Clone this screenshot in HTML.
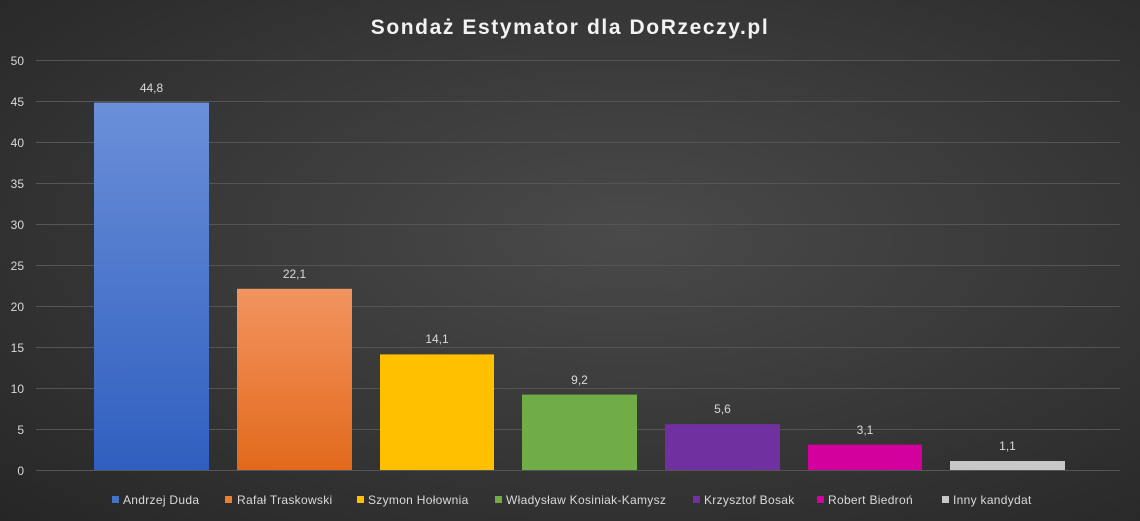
<!DOCTYPE html>
<html><head><meta charset="utf-8"><style>
html,body{margin:0;padding:0;width:1140px;height:521px;overflow:hidden}
body{background:radial-gradient(ellipse at 55% 45%,#4a4a4a 0%,#3a3a3a 45%,#262626 100%);font-family:"Liberation Sans",sans-serif}
svg{position:absolute;left:0;top:0}
</style></head><body>
<svg width="1140" height="521" viewBox="0 0 1140 521">
<defs>
<linearGradient id="gb" x1="0" y1="0" x2="0" y2="1"><stop offset="0" stop-color="#6b8fd9"/><stop offset="1" stop-color="#2f5fbf"/></linearGradient>
<linearGradient id="go" x1="0" y1="0" x2="0" y2="1"><stop offset="0" stop-color="#f29460"/><stop offset="1" stop-color="#e2691b"/></linearGradient>
</defs>
<text x="570" y="34" text-anchor="middle" font-size="21" font-weight="bold" fill="#f2f2f2" letter-spacing="1.6">Sondaż Estymator dla DoRzeczy.pl</text>
<g stroke="#555555" stroke-width="1">
<line x1="36" x2="1120" y1="60.5" y2="60.5"/><line x1="36" x2="1120" y1="101.5" y2="101.5"/>
<line x1="36" x2="1120" y1="142.5" y2="142.5"/><line x1="36" x2="1120" y1="183.5" y2="183.5"/>
<line x1="36" x2="1120" y1="224.5" y2="224.5"/><line x1="36" x2="1120" y1="265.5" y2="265.5"/>
<line x1="36" x2="1120" y1="306.5" y2="306.5"/><line x1="36" x2="1120" y1="347.5" y2="347.5"/>
<line x1="36" x2="1120" y1="388.5" y2="388.5"/><line x1="36" x2="1120" y1="429.5" y2="429.5"/>
<line x1="36" x2="1120" y1="470.5" y2="470.5"/>
</g>
<g font-size="12" fill="#d9d9d9" text-anchor="end">
<text x="24" y="65">50</text><text x="24" y="106">45</text><text x="24" y="147">40</text>
<text x="24" y="188">35</text><text x="24" y="229">30</text><text x="24" y="270">25</text>
<text x="24" y="311">20</text><text x="24" y="352">15</text><text x="24" y="393">10</text>
<text x="24" y="434">5</text><text x="24" y="475">0</text>
</g>
<rect x="94" y="102.6" width="115" height="367.4" fill="url(#gb)"/>
<rect x="237" y="288.8" width="115" height="181.2" fill="url(#go)"/>
<rect x="380" y="354.4" width="114" height="115.6" fill="#ffc000"/>
<rect x="522" y="394.6" width="115" height="75.4" fill="#70ad47"/>
<rect x="665" y="424.1" width="115" height="45.9" fill="#7030a0"/>
<rect x="808" y="444.6" width="114" height="25.4" fill="#d4009e"/>
<rect x="950" y="461" width="115" height="9" fill="#c8c8c8"/>
<g font-size="12" fill="#d9d9d9" text-anchor="middle">
<text x="151.5" y="92">44,8</text><text x="294.5" y="278">22,1</text><text x="437" y="343">14,1</text>
<text x="579.5" y="384">9,2</text><text x="722.5" y="413">5,6</text><text x="865" y="434">3,1</text>
<text x="1007.5" y="450">1,1</text>
</g>
<g font-size="12" fill="#d9d9d9" letter-spacing="0.3">
<rect x="112" y="496" width="7" height="7" fill="#4472c4"/><text x="123" y="504">Andrzej Duda</text>
<rect x="225" y="496" width="7" height="7" fill="#ed7d31"/><text x="237" y="504">Rafał Traskowski</text>
<rect x="357" y="496" width="7" height="7" fill="#ffc000"/><text x="368" y="504">Szymon Hołownia</text>
<rect x="495" y="496" width="7" height="7" fill="#70ad47"/><text x="506" y="504">Władysław Kosiniak-Kamysz</text>
<rect x="693" y="496" width="7" height="7" fill="#7030a0"/><text x="704" y="504">Krzysztof Bosak</text>
<rect x="817" y="496" width="7" height="7" fill="#d4009e"/><text x="828" y="504">Robert Biedroń</text>
<rect x="942" y="496" width="7" height="7" fill="#c8c8c8"/><text x="953" y="504">Inny kandydat</text>
</g>
</svg>
</body></html>
